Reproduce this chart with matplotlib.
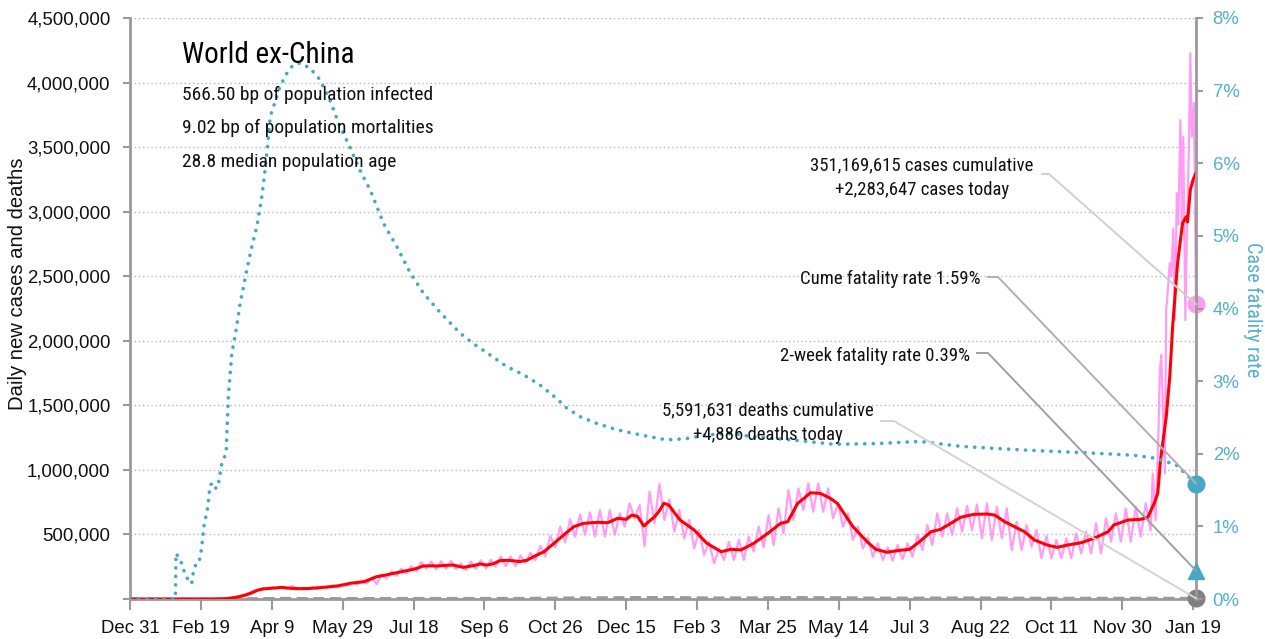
import matplotlib
matplotlib.use('Agg')
import matplotlib.pyplot as plt
from matplotlib import font_manager
from matplotlib.lines import Line2D
import numpy as np

# ---------------- fonts ----------------
_names = {f.name for f in font_manager.fontManager.ttflist}
NARROW = next((n for n in ['Liberation Sans Narrow', 'Roboto Condensed', 'Liberation Sans'] if n in _names), 'DejaVu Sans')
REG = next((n for n in ['Liberation Sans', 'Arimo', 'DejaVu Sans'] if n in _names), 'DejaVu Sans')
plt.rcParams['font.family'] = [REG, 'DejaVu Sans']

# ---------------- data ----------------
# x values are days since 2019-12-31
x_tick_days = [0, 50, 100, 150, 200, 250, 300, 350, 400, 450, 500, 550, 600, 650, 700, 750]
x_tick_labels = ['Dec 31', 'Feb 19', 'Apr 9', 'May 29', 'Jul 18', 'Sep 6', 'Oct 26', 'Dec 15',
                 'Feb 3', 'Mar 25', 'May 14', 'Jul 3', 'Aug 22', 'Oct 11', 'Nov 30', 'Jan 19']
y_left_ticks = [0, 500000, 1000000, 1500000, 2000000, 2500000, 3000000, 3500000, 4000000, 4500000]
y_left_labels = ['', '500,000', '1,000,000', '1,500,000', '2,000,000', '2,500,000',
                 '3,000,000', '3,500,000', '4,000,000', '4,500,000']
y_right_ticks = [0, 1, 2, 3, 4, 5, 6, 7, 8]
y_right_labels = ['0%', '1%', '2%', '3%', '4%', '5%', '6%', '7%', '8%']
last_day = 752

# 7-day average of daily new cases (thousands)
red_day = [0, 60, 65, 70, 74, 78, 82, 86, 90, 94, 98, 102, 107, 113, 120, 127, 134, 140, 146, 150,
           155, 160, 165, 170, 174, 180, 186, 190, 195, 200, 203, 207, 212, 217, 222, 228, 235, 242,
           247, 252, 256, 261, 267, 275, 280, 285, 292, 299, 306, 313, 320, 330, 337, 344, 350, 354,
           358, 362.5, 366, 370, 373, 376.6, 380, 388, 398, 407, 417, 424, 431, 440, 450, 459, 464,
           471, 475.5, 480, 487, 494, 499, 506, 510, 515.5, 520, 526, 534, 541, 550, 557, 565, 572,
           579, 586, 595.5, 605, 610, 617, 624, 631, 638, 647, 654, 661.5, 671, 680, 690, 694, 704,
           713, 718, 722.5, 725, 727, 728.5, 731, 733.5, 735.5, 739, 741, 742.5, 745, 746, 748, 750, 752]
red_k = [0, 0, 1, 5, 12, 20, 32, 48, 68, 78, 82, 85, 90, 83, 80, 82, 88, 94, 101, 108,
         121, 128, 134, 155, 173, 185, 199, 208, 219, 230, 240, 256, 257, 256, 260, 263, 245, 258,
         271, 263, 272, 297, 300, 290, 300, 330, 366, 431, 496, 560, 586, 594, 591, 625, 617, 650,
         640, 565, 600, 637, 676, 741, 728, 612, 534, 431, 366, 385, 380, 431, 509, 586, 599,
         741, 780, 823, 818, 780, 741, 625, 560, 496, 444, 385, 362, 374, 385, 444, 521, 540,
         586, 633, 656, 658, 650, 599, 560, 521, 457, 418, 400, 418, 436, 470, 521, 573, 612,
         617, 633, 741, 818, 1077, 1206, 1412, 1722, 2109, 2600, 2780, 2910, 2960, 2920, 3170, 3250, 3300]

# daily new cases (thousands), sampled every half week from day 58.5, then the Jan surge
pink_start, pink_step = 58.5, 3.5
pink_k = [1, 2, 4, 7, 12, 18, 32, 42, 62, 70,
          84, 76, 90, 80, 96, 80, 102, 74, 86, 74,
          90, 78, 96, 84, 104, 90, 115, 102, 130, 112,
          140, 120, 165, 115, 190, 160, 215, 180, 235, 198,
          255, 215, 285, 235, 290, 230, 292, 235, 295, 232,
          275, 225, 290, 235, 300, 238, 305, 250, 330, 255,
          330, 255, 335, 280, 359,
          302, 410, 330, 488, 400, 560, 440, 617, 483, 656,
          496, 671, 483, 689, 483, 689, 496, 663, 560, 741,
          625, 728, 410, 831, 586, 891, 612, 772, 522, 689,
          470, 612, 393, 534, 341, 444, 276, 392, 302, 444,
          302, 457, 302, 483, 367, 560, 400, 650, 418, 702,
          509, 844, 612, 857, 689, 896, 676, 896, 676, 857,
          625, 741, 560, 663, 457, 560, 392, 475,
          327, 431, 302, 400, 297, 418, 307, 431, 327, 496,
          379, 573, 418, 663, 483, 663, 496, 702, 522, 720,
          534, 733, 470, 741, 457, 715, 470, 702, 379, 599,
          379, 573, 405, 534, 315, 488, 315, 457, 315, 470,
          315, 509, 353, 522, 353, 586, 353, 625, 444, 663,
          444, 702, 444, 715, 483, 741, 530]
pink_tail_day = [721.5, 723.5, 725.5, 726.5, 727.5, 730, 731, 732.5, 733.5, 734.5, 736, 737,
                 738.5, 739.5, 741, 742, 743, 744.5, 745.5, 747, 748, 749, 750.5, 752]
pink_tail_k = [972, 612, 1280, 1770, 1890, 974, 2240, 2445, 2600, 2500, 2871, 2160,
               3142, 2900, 3710, 2900, 3580, 2160, 2800, 3503, 4227, 3580, 3840, 2284]

# daily deaths (thousands)
death_day = [0, 60, 90, 105, 130, 160, 200, 240, 280, 310, 340, 380, 410, 440, 470, 500,
             530, 560, 590, 620, 650, 690, 720, 740, 752]
death_k = [0, 0, 4, 6, 4, 4.5, 5.5, 5.5, 6, 9, 11, 13, 9, 10, 12, 11, 8, 8, 9.5, 8, 7, 7, 7, 6.5, 4.9]

# case fatality rate (%)
cfr_day = [0, 32, 32.5, 35, 37.2, 38.4, 40.5, 43.5, 44.3, 45.2, 47, 48.7, 50.1, 51.3, 52.5, 54.4,
           55.3, 56.5, 58.9, 60.7, 62, 64.8, 67.8, 69.4, 71.8, 74.9, 77.7, 82.4, 85.9, 89.5, 93,
           95.3, 97, 98.9, 102.4, 105.9, 110.7, 115.3, 120, 127, 134, 141, 148, 155, 162, 169.5,
           178.9, 188.3, 197.7, 207, 219, 226, 232.9, 242, 254, 265.8, 277.4, 289, 301, 308, 317.6,
           329, 343.5, 360, 378.8, 392.9, 407, 425.6, 437, 467, 497, 527, 557, 587, 632, 677.5,
           707.7, 722.7, 737.8, 752]
cfr_pct = [0, 0, 0.63, 0.55, 0.46, 0.36, 0.28, 0.21, 0.33, 0.41, 0.50, 0.51, 0.64, 0.85, 1.05, 1.20,
           1.35, 1.57, 1.60, 1.52, 1.55, 1.87, 2.01, 2.79, 3.38, 3.71, 4.07, 4.53, 4.85, 5.13, 5.54,
           5.91, 6.23, 6.64, 6.85, 7.06, 7.24, 7.36, 7.38, 7.31, 7.15, 6.87, 6.51, 6.23, 5.91, 5.63,
           5.17, 4.85, 4.49, 4.21, 3.94, 3.80, 3.66, 3.52, 3.36, 3.20, 3.09, 2.95, 2.76, 2.63, 2.51,
           2.42, 2.33, 2.26, 2.19, 2.21, 2.26, 2.28, 2.24, 2.19, 2.13, 2.14, 2.17, 2.10, 2.05, 2.01,
           1.98, 1.94, 1.85, 1.59]

cases_today = 2283647
deaths_today = 4886
cume_cfr = 1.59
two_week_cfr = 0.39

title = 'World ex-China'
info_lines = ['566.50 bp of population infected', '9.02 bp of population mortalities',
              '28.8 median population age']
cases_note = '351,169,615 cases cumulative\n+2,283,647 cases today'
cume_note = 'Cume fatality rate 1.59%'
two_week_note = '2-week fatality rate 0.39%'
deaths_note = '5,591,631 deaths cumulative\n+4,886 deaths today'

# ---------------- colours ----------------
PINK = '#ff9cf3'
RED = '#ff0000'
TEAL = '#45a9c5'
TEAL_TXT = '#54b0cc'
GRAY = '#9a9a9a'

# ---------------- figure ----------------
W, H = 1265, 639
fig = plt.figure(figsize=(W / 100, H / 100), dpi=100)
ax = fig.add_axes([130 / W, 1 - 599 / H, (1196 - 130) / W, (599 - 18) / H])
ax2 = ax.twinx()

pink_day = [pink_start + pink_step * i for i in range(len(pink_k))] + pink_tail_day
pink_all = [v * 1000 for v in pink_k + pink_tail_k]
ax.plot([0, 30] + pink_day, [0, 0] + pink_all, color=PINK, lw=1.6, zorder=2)
ax.plot(red_day, [v * 1000 for v in red_k], color=RED, lw=2.2, zorder=3)
ax.plot(death_day, [v * 1000 for v in death_k], color=GRAY, lw=2.0, dashes=(4, 2), zorder=2)
ax2.plot(cfr_day, cfr_pct, color=TEAL, lw=2.6, linestyle=(0, (0.05, 2.3)),
         dash_capstyle='round', zorder=3)

ax.set_xlim(0, last_day)
ax.set_ylim(0, 4500000)
ax2.set_ylim(0, 8)

ax.plot([last_day], [cases_today], 'o', color=PINK, ms=12, clip_on=False, zorder=6)
ax.plot([last_day], [deaths_today], 'o', color='#808080', ms=12, clip_on=False, zorder=6)
ax2.plot([last_day], [cume_cfr], 'o', color=TEAL, ms=12, clip_on=False, zorder=6)
ax2.plot([last_day], [two_week_cfr], '^', color=TEAL, ms=12, clip_on=False, zorder=6)

# axes styling
for a in (ax, ax2):
    a.spines['top'].set_visible(False)
    for s in ('left', 'right', 'bottom'):
        a.spines[s].set_color(GRAY)
        a.spines[s].set_linewidth(2)
ax.spines['right'].set_visible(False)
ax2.spines['left'].set_visible(False)
ax2.spines['bottom'].set_visible(False)

ax.set_xticks(x_tick_days)
ax.set_xticklabels(x_tick_labels)
ax.set_yticks(y_left_ticks)
ax.set_yticklabels(y_left_labels)
ax2.set_yticks(y_right_ticks)
ax2.set_yticklabels(y_right_labels)

ax.tick_params(axis='x', length=8, width=1.5, color=GRAY, pad=7, labelsize=13.4, labelcolor='#111111')
ax.tick_params(axis='y', length=5, width=1.5, color=GRAY, pad=9, labelsize=13.4, labelcolor='#111111')
ax2.tick_params(axis='y', length=5, width=1.5, color=GRAY, pad=7, labelsize=13.4, labelcolor=TEAL_TXT)

ax.yaxis.grid(True, linestyle=(0, (1, 2)), color='#b5b5b5', lw=1)
ax.set_axisbelow(True)


def fx(x):
    return x / W


def fy(y):
    return 1 - y / H


fig.text(fx(18), fy(284), 'Daily new cases and deaths', rotation=90, ha='center', va='center',
         fontsize=14.6, color='#111111', family=[REG, 'DejaVu Sans'])
fig.text(fx(1253), fy(310), 'Case fatality rate', rotation=270, ha='center', va='center',
         fontsize=14.5, color=TEAL_TXT, family=[NARROW, 'DejaVu Sans'])

fig.text(fx(182), fy(63), title, ha='left', va='baseline', fontsize=21, color='black',
         family=[NARROW, 'DejaVu Sans'])
for i, line in enumerate(info_lines):
    fig.text(fx(182), fy(99.5 + 33.8 * i), line, ha='left', va='baseline', fontsize=14.0,
             color='#111111', family=[NARROW, 'DejaVu Sans'])

note_kw = dict(fontsize=13.5, color='#111111', family=[NARROW, 'DejaVu Sans'], linespacing=1.5)
fig.text(fx(922), fy(195), cases_note, ha='center', va='baseline', multialignment='center', **note_kw)
fig.text(fx(981), fy(284), cume_note, ha='right', va='baseline', **note_kw)
fig.text(fx(970), fy(361), two_week_note, ha='right', va='baseline', **note_kw)
fig.text(fx(768), fy(440), deaths_note, ha='center', va='baseline', multialignment='center', **note_kw)


def connector(x0, x1, y, axis, px, py, color):
    disp = axis.transData.transform((px, py))
    tx, ty = fig.transFigure.inverted().transform(disp)
    fig.add_artist(Line2D([fx(x0), fx(x1), tx], [fy(y), fy(y), ty], transform=fig.transFigure,
                          color=color, lw=1.4, zorder=1))


connector(1042, 1049, 174, ax, last_day, cases_today, '#d0d0d0')
connector(988, 998, 277, ax2, last_day, cume_cfr, '#b0b0b0')
connector(977, 988, 353, ax2, last_day, two_week_cfr, '#a0a0a0')
connector(881, 894, 421, ax, last_day, deaths_today, '#d4d4d4')

fig.savefig('out.png', dpi=100)
